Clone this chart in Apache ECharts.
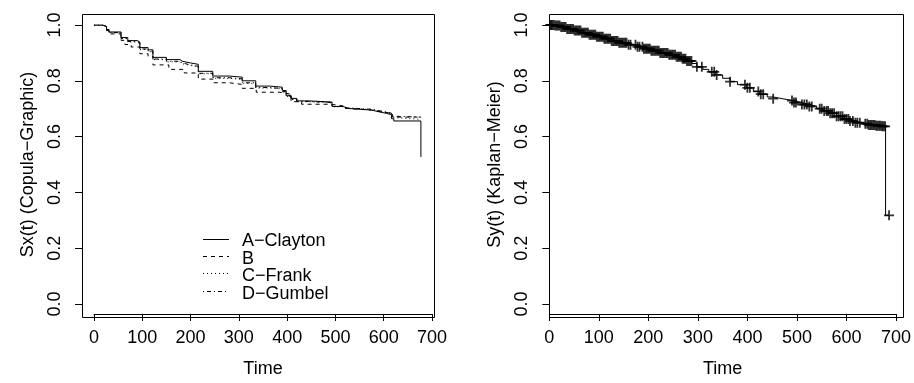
<!DOCTYPE html>
<html>
<head>
<meta charset="utf-8">
<script src="https://cdn.jsdelivr.net/npm/echarts@6/dist/echarts.min.js"></script>
<style>html,body{margin:0;padding:0;background:#fff}#c{width:914px;height:383px}</style>
</head>
<body>
<div id="c"></div>
<script>
// ---- Left panel: Copula-Graphic estimates ----
const xTicks = [0, 100, 200, 300, 400, 500, 600, 700];
const yTicks = [0.0, 0.2, 0.4, 0.6, 0.8, 1.0];
const seriesNames = ['A\u2212Clayton', 'B', 'C\u2212Frank', 'D\u2212Gumbel'];

const timeA = [0,18,26,31,56,70,90,95,112,122,150,178,183,200,216,246,280,307,335,365,390,398,408,420,445,493,516,525,575,590,606,616,621,677];
const survA = [1.000,0.995,0.984,0.975,0.955,0.944,0.939,0.919,0.911,0.884,0.876,0.870,0.864,0.859,0.834,0.817,0.813,0.800,0.781,0.777,0.765,0.748,0.737,0.728,0.724,0.708,0.701,0.695,0.689,0.683,0.679,0.664,0.656,0.527];

const timeB = [0,18,26,31,56,64,77,95,112,122,155,187,216,246,280,307,336,385,408,430,490,516,525,575,590,612,618,677];
const survB = [1.000,0.993,0.980,0.968,0.945,0.930,0.921,0.897,0.888,0.857,0.841,0.828,0.806,0.793,0.787,0.773,0.759,0.752,0.725,0.716,0.710,0.701,0.695,0.690,0.685,0.681,0.670,0.667];

const timeC = [0,18,26,31,56,70,90,95,112,122,150,178,183,200,216,246,280,307,335,365,390,398,408,420,445,493,516,525,575,590,606,616,621,677];
const survC = [1.000,0.994,0.982,0.972,0.951,0.939,0.933,0.912,0.904,0.876,0.868,0.861,0.855,0.850,0.825,0.809,0.805,0.791,0.774,0.771,0.760,0.744,0.733,0.725,0.721,0.707,0.702,0.697,0.692,0.686,0.681,0.668,0.662,0.662];

const timeD = [0,18,26,31,56,70,90,95,112,122,150,178,183,200,216,246,280,307,335,365,390,398,408,420,445,493,516,525,575,590,606,616,621,677];
const survD = [1.000,0.994,0.983,0.973,0.952,0.941,0.935,0.914,0.906,0.878,0.870,0.864,0.857,0.852,0.827,0.811,0.807,0.793,0.776,0.772,0.761,0.745,0.734,0.726,0.722,0.708,0.703,0.698,0.693,0.688,0.684,0.673,0.670,0.670];

// ---- Right panel: Kaplan-Meier ----
const kmTime = [0,10,22,35,50,65,80,95,110,125,140,157,175,190,205,224,240,255,268,278,288,298,310,322,335,350,365,380,398,412,425,440,452,470,493,510,525,540,552,565,580,593,605,618,630,645,660,672,679,686];
const kmSurv = [1.000,0.998,0.993,0.986,0.980,0.972,0.965,0.958,0.951,0.943,0.936,0.929,0.922,0.915,0.908,0.900,0.893,0.886,0.879,0.871,0.862,0.850,0.841,0.832,0.821,0.809,0.797,0.786,0.775,0.762,0.752,0.742,0.736,0.729,0.722,0.715,0.708,0.700,0.692,0.684,0.673,0.663,0.656,0.650,0.646,0.642,0.639,0.637,0.318,0.318];
const censorTime = [2,4,6,9,12,15,18,21,24,27,30,33,36,39,42,45,48,51,54,57,60,63,66,69,72,75,78,81,84,87,90,93,96,99,102,105,108,111,114,117,120,123,126,129,132,135,138,141,144,147,150,153,156,160,164,174,178,182,188,191,194,197,200,203,206,209,212,215,218,221,224,227,230,233,236,239,242,245,248,251,254,257,260,263,266,269,272,275,278,281,284,287,298,308,328,333,338,365,395,400,405,422,427,432,452,490,494,498,510,515,520,525,530,546,550,555,560,563,567,571,575,580,584,588,592,596,600,604,607,613,618,622,627,638,642,645,648,651,654,657,660,663,666,669,672,675,678,686];

function zip(t, s) { return t.map((v, i) => [v, s[i]]); }
function kmAt(t) {
  let s = kmSurv[0];
  for (let i = 0; i < kmTime.length; i++) { if (kmTime[i] <= t) s = kmSurv[i]; }
  return s;
}

const FONT = 'Liberation Sans, Arial, Helvetica, sans-serif';
const FS = 18;
const chart = echarts.init(document.getElementById('c'), null, { renderer: 'canvas' });

function xAxisDef(gi) {
  return {
    gridIndex: gi, type: 'value', min: 0, max: 700, interval: 100, offset: 10,
    axisLine: { show: true, onZero: false, lineStyle: { color: '#000', width: 1 } },
    axisTick: { show: true, inside: false, length: 7, lineStyle: { color: '#000' } },
    axisLabel: { color: '#000', fontSize: FS, fontFamily: FONT, margin: 15,
      formatter: v => xTicks.includes(v) ? String(v) : '' },
    splitLine: { show: false },
    name: 'Time', nameLocation: 'middle', nameGap: 46,
    nameTextStyle: { color: '#000', fontSize: FS, fontFamily: FONT }
  };
}
function yAxisDef(gi, name, off) {
  return {
    gridIndex: gi, type: 'value', min: 0, max: 1, interval: 0.2, offset: off,
    axisLine: { show: true, onZero: false, lineStyle: { color: '#000', width: 1 } },
    axisTick: { show: true, inside: false, length: 7, lineStyle: { color: '#000' } },
    axisLabel: { color: '#000', fontSize: FS, fontFamily: FONT, margin: 18, rotate: 90,
      formatter: v => yTicks.some(t => Math.abs(t - v) < 1e-9) ? v.toFixed(1) : '' },
    splitLine: { show: false },
    name: name, nameLocation: 'middle', nameGap: 45, nameRotate: 90,
    nameTextStyle: { color: '#000', fontSize: FS, fontFamily: FONT }
  };
}

const dashes = ['solid', [4, 4], [1, 3], [1, 3, 4, 3]];
const curveData = [zip(timeA, survA), zip(timeB, survB), zip(timeC, survC), zip(timeD, survD)];
const leftSeries = curveData.map((d, i) => ({
  name: seriesNames[i], type: 'line', step: 'end', xAxisIndex: 0, yAxisIndex: 0,
  data: d, symbol: 'none', animation: false, z: 10 - i,
  lineStyle: { color: '#000', width: 1, type: dashes[i] }
}));

const plusPath = 'path://M0,-5L0,5M-5,0L5,0';

const legendX1 = 203, legendX2 = 229, legendTextX = 242, legendY0 = 241.5, legendDY = 17.4;
const legendGraphics = [];
seriesNames.forEach((n, i) => {
  const y = Math.round(legendY0 + i * legendDY - 3) + 0.5;
  legendGraphics.push({ type: 'line', shape: { x1: legendX1, y1: y, x2: legendX2, y2: y },
    style: { stroke: '#000', lineWidth: 1, lineDash: dashes[i] === 'solid' ? null : dashes[i] } });
  legendGraphics.push({ type: 'text', x: legendTextX, y: legendY0 + i * legendDY,
    style: { text: n, fill: '#000', font: FS + 'px ' + FONT, textAlign: 'left', textVerticalAlign: 'middle' } });
});

chart.setOption({
  animation: false,
  backgroundColor: '#fff',
  grid: [
    { left: 94, top: 25, width: 338, height: 282 },
    { left: 549.3, top: 25, width: 346.7, height: 282 }
  ],
  xAxis: [xAxisDef(0), xAxisDef(1)],
  yAxis: [yAxisDef(0, 'Sx(t) (Copula\u2212Graphic)', 12), yAxisDef(1, 'Sy(t) (Kaplan\u2212Meier)', 0)],
  series: leftSeries.concat([
    { type: 'line', step: 'end', xAxisIndex: 1, yAxisIndex: 1, data: zip(kmTime, kmSurv),
      symbol: 'none', lineStyle: { color: '#000', width: 1 }, animation: false },
    { type: 'scatter', xAxisIndex: 1, yAxisIndex: 1, clip: false,
      data: censorTime.map(t => [t, kmAt(t)]),
      symbol: plusPath, symbolSize: 10,
      itemStyle: { color: 'none', borderColor: '#000', borderWidth: 1.8 }, animation: false }
  ]),
  graphic: [
    { type: 'rect', shape: { x: 82.5, y: 14.5, width: 352, height: 303 },
      style: { fill: 'none', stroke: '#000', lineWidth: 1 }, silent: true },
    { type: 'rect', shape: { x: 549.5, y: 14.5, width: 354, height: 303 },
      style: { fill: 'none', stroke: '#000', lineWidth: 1 }, silent: true }
  ].concat(legendGraphics)
});
</script>
</body>
</html>
